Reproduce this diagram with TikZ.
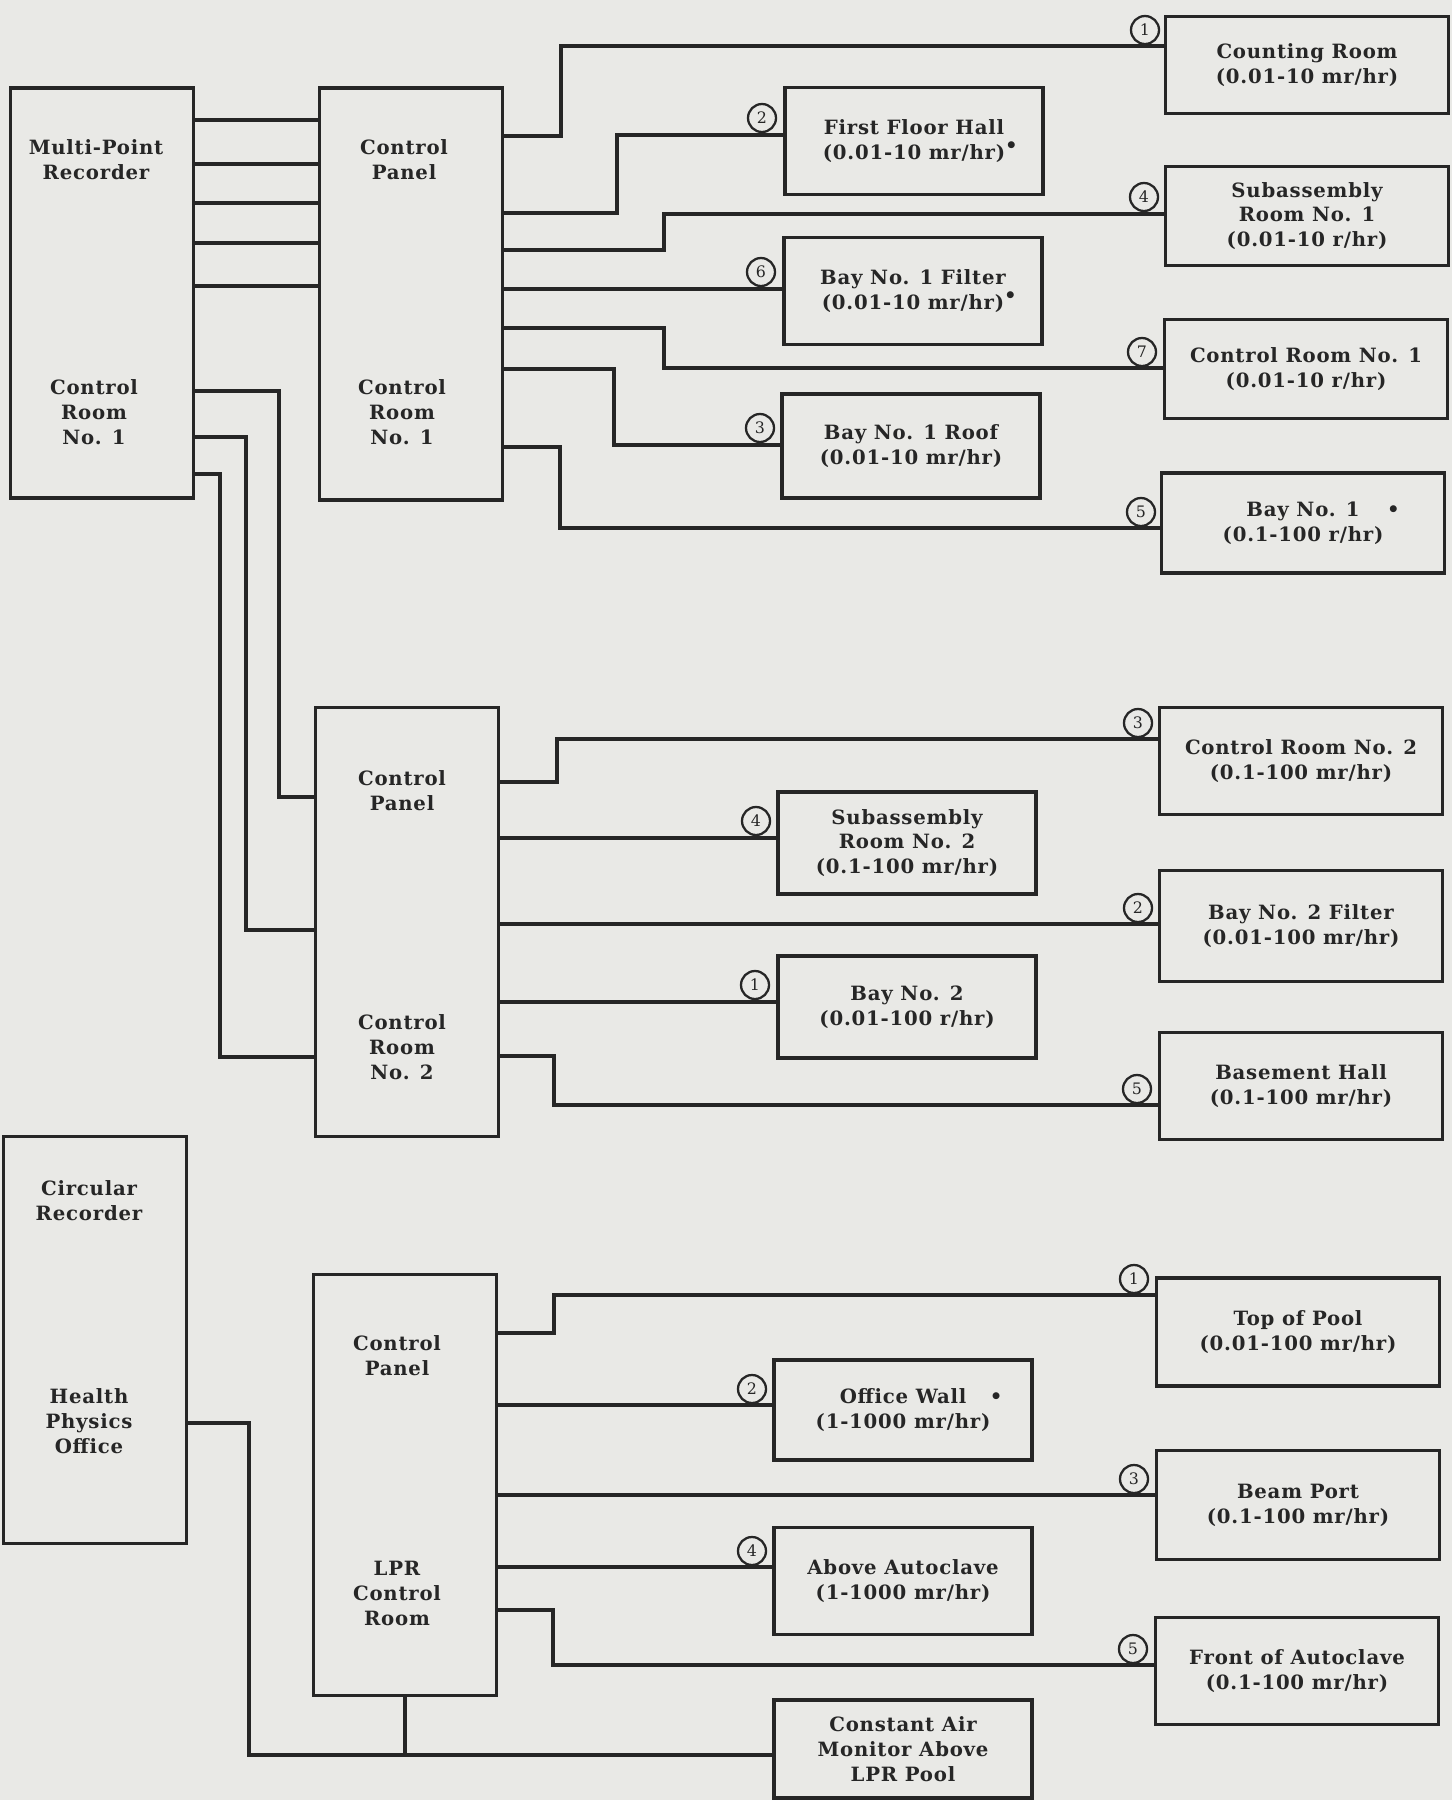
\documentclass[tikz,border=0pt]{standalone}
\usepackage{fontspec}
\setmainfont{DejaVu Serif}[LetterSpace=4]
\usetikzlibrary{positioning}
\definecolor{paper}{RGB}{233,233,230}
\definecolor{ink}{RGB}{38,38,38}
\newcommand\tagfont{\fontsize{11.2}{14.2}\selectfont\bfseries}
\tikzset{
  panel/.style={rectangle, draw=ink, line width=1.9pt, minimum width=3.66cm},
  caption/.style={align=center, text=ink, font=\tagfont},
  sensor/.style={rectangle, draw=ink, line width=1.9pt, minimum width=5.16cm, inner sep=0pt, align=center, text=ink, font=\tagfont},
  remote/.style={sensor, minimum width=5.66cm},
  num/.style={circle, draw=ink, line width=1.3pt, minimum size=5.6mm, inner sep=0pt, text=ink, font=\fontsize{9}{9}\selectfont},
  wire/.style={draw=ink, line width=2pt},
}

\begin{document}
\begin{tikzpicture}[x=0.02cm, y=-0.02cm]
  \fill[paper] (0,0) rectangle (1452,1800);

  % recorders and control panels
  \node[panel, minimum height=8.2cm] (rec) at (102,293) {};
  \node[panel, minimum height=8.24cm] (cp1) at (411,294) {};
  \node[panel, minimum height=8.58cm] (cp2) at (407,922) {};
  \node[panel, minimum height=8.42cm] (cp3) at (405,1485) {};
  \node[panel, minimum height=8.14cm] (circ) at (95,1340) {};

  \node[caption] (recTop) at (96,160) {Multi-Point\\Recorder};
  \node[caption] (recBot) at (94,412) {Control\\Room\\No. 1};
  \node[caption] (cp1Top) at (404,160) {Control\\Panel};
  \node[caption] (cp1Bot) at (402,412) {Control\\Room\\No. 1};
  \node[caption] (cp2Top) at (402,791) {Control\\Panel};
  \node[caption] (cp2Bot) at (402,1047) {Control\\Room\\No. 2};
  \node[caption] (cp3Top) at (397,1356) {Control\\Panel};
  \node[caption] (cp3Bot) at (397,1593) {LPR\\Control\\Room};
  \node[caption] (circTop) at (89,1201) {Circular\\Recorder};
  \node[caption] (circBot) at (89,1421) {Health\\Physics\\Office};

  % control room no. 1 detectors
  \node[remote, minimum height=1.94cm] (cnt) at (1307,65) {Counting Room\\(0.01-10 mr/hr)};
  \node[sensor, minimum height=2.14cm] (ffh) at (914,141) {First Floor Hall\\(0.01-10 mr/hr)\rlap{\raisebox{0.7ex}{•}}};
  \node[remote, minimum height=1.98cm] (sub1) at (1307,216) {Subassembly\\Room No. 1\\(0.01-10 r/hr)};
  \node[sensor, minimum height=2.14cm] (bf1) at (913,291) {Bay No. 1 Filter\\(0.01-10 mr/hr)\rlap{\raisebox{0.7ex}{•}}};
  \node[remote, minimum height=1.98cm] (cr1) at (1306,369) {Control Room No. 1\\(0.01-10 r/hr)};
  \node[sensor, minimum height=2.08cm] (br1) at (911,446) {Bay No. 1 Roof\\(0.01-10 mr/hr)};
  \node[remote, minimum height=2.0cm] (bay1) at (1303,523) {Bay No. 1\rlap{\hspace{1.4em}•}\\(0.1-100 r/hr)};

  % control room no. 2 detectors
  \node[remote, minimum height=2.14cm] (cr2) at (1301,761) {Control Room No. 2\\(0.1-100 mr/hr)};
  \node[sensor, minimum height=2.04cm] (sub2) at (907,843) {Subassembly\\Room No. 2\\(0.1-100 mr/hr)};
  \node[remote, minimum height=2.22cm] (bf2) at (1301,926) {Bay No. 2 Filter\\(0.01-100 mr/hr)};
  \node[sensor, minimum height=2.04cm] (bay2) at (907,1007) {Bay No. 2\\(0.01-100 r/hr)};
  \node[remote, minimum height=2.14cm] (bh) at (1301,1086) {Basement Hall\\(0.1-100 mr/hr)};

  % LPR control room detectors
  \node[remote, minimum height=2.16cm] (pool) at (1298,1332) {Top of Pool\\(0.01-100 mr/hr)};
  \node[sensor, minimum height=2.0cm] (ow) at (903,1410) {Office Wall\rlap{\hspace{1.2em}•}\\(1-1000 mr/hr)};
  \node[remote, minimum height=2.18cm] (bp) at (1298,1505) {Beam Port\\(0.1-100 mr/hr)};
  \node[sensor, minimum height=2.14cm] (aa) at (903,1581) {Above Autoclave\\(1-1000 mr/hr)};
  \node[remote, minimum height=2.14cm] (fa) at (1297,1671) {Front of Autoclave\\(0.1-100 mr/hr)};
  \node[sensor, minimum height=1.96cm] (cam) at (903,1749) {Constant Air\\Monitor Above\\LPR Pool};

  % recorder to panels
  \foreach \y in {120,164,203,243,286}
    \draw[wire] (rec.east |- 0,\y) -- (cp1.west |- 0,\y);
  \draw[wire] (rec.east |- 0,391) -- (279,391) |- (cp2.west |- 0,797);
  \draw[wire] (rec.east |- 0,437) -- (246,437) |- (cp2.west |- 0,930);
  \draw[wire] (rec.east |- 0,474) -- (220,474) |- (cp2.west |- 0,1057);

  % panel 1 outputs
  \draw[wire] (cp1.east |- 0,136) -- (561,136) |- (cnt.west |- 0,46);
  \draw[wire] (cp1.east |- 0,213) -- (617,213) |- (ffh.west |- 0,135);
  \draw[wire] (cp1.east |- 0,250) -- (664,250) |- (sub1.west |- 0,214);
  \draw[wire] (cp1.east |- 0,289) -- (bf1.west |- 0,289);
  \draw[wire] (cp1.east |- 0,328) -- (664,328) |- (cr1.west |- 0,368);
  \draw[wire] (cp1.east |- 0,369) -- (614,369) |- (br1.west |- 0,445);
  \draw[wire] (cp1.east |- 0,447) -- (560,447) |- (bay1.west |- 0,528);

  % panel 2 outputs
  \draw[wire] (cp2.east |- 0,782) -- (557,782) |- (cr2.west |- 0,739);
  \draw[wire] (cp2.east |- 0,838) -- (sub2.west |- 0,838);
  \draw[wire] (cp2.east |- 0,924) -- (bf2.west |- 0,924);
  \draw[wire] (cp2.east |- 0,1002) -- (bay2.west |- 0,1002);
  \draw[wire] (cp2.east |- 0,1056) -- (554,1056) |- (bh.west |- 0,1105);

  % panel 3 outputs
  \draw[wire] (cp3.east |- 0,1333) -- (554,1333) |- (pool.west |- 0,1295);
  \draw[wire] (cp3.east |- 0,1405) -- (ow.west |- 0,1405);
  \draw[wire] (cp3.east |- 0,1495) -- (bp.west |- 0,1495);
  \draw[wire] (cp3.east |- 0,1567) -- (aa.west |- 0,1567);
  \draw[wire] (cp3.east |- 0,1610) -- (553,1610) |- (fa.west |- 0,1665);
  \draw[wire] (circ.east |- 0,1423) -- (249,1423) |- (cam.west |- 0,1755);
  \draw[wire] (cp3.south) -- (cp3.south |- 0,1755);

  % channel numbers
  \node[num] (c1) at (1145,30) {1};
  \node[num] (c2) at (762,118) {2};
  \node[num] (c4) at (1144,197) {4};
  \node[num] (c6) at (761,272) {6};
  \node[num] (c7) at (1142,352) {7};
  \node[num] (c3) at (760,428) {3};
  \node[num] (c5) at (1141,512) {5};
  \node[num] (d3) at (1138,723) {3};
  \node[num] (d4) at (756,821) {4};
  \node[num] (d2) at (1138,908) {2};
  \node[num] (d1) at (755,985) {1};
  \node[num] (d5) at (1137,1089) {5};
  \node[num] (e1) at (1134,1279) {1};
  \node[num] (e2) at (752,1389) {2};
  \node[num] (e3) at (1134,1479) {3};
  \node[num] (e4) at (752,1551) {4};
  \node[num] (e5) at (1133,1649) {5};
\end{tikzpicture}
\end{document}
